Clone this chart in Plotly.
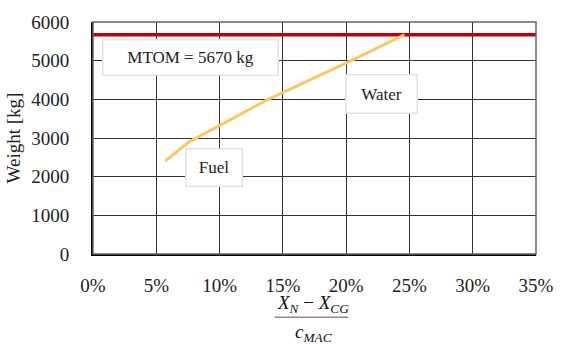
import plotly.graph_objects as go

# Data
cg_pct = [5.7, 7.6, 13.75, 20.4, 24.6]
weight = [2400, 2900, 3985, 5000, 5670]
mtom = 5670
x_range = [0, 35]
x_ticks = [0, 5, 10, 15, 20, 25, 30, 35]
x_ticktext = ["0%", "5%", "10%", "15%", "20%", "25%", "30%", "35%"]
y_ticks = [0, 1000, 2000, 3000, 4000, 5000, 6000]

serif = "Liberation Serif, Times New Roman, serif"

fig = go.Figure()
fig.add_trace(go.Scatter(x=x_range, y=[mtom, mtom], mode="lines",
                         line=dict(color="#c00000", width=3.5), showlegend=False))
fig.add_trace(go.Scatter(x=cg_pct, y=weight, mode="lines",
                         line=dict(color="#f7c863", width=3), showlegend=False))

box = dict(bgcolor="white", bordercolor="#e3e3e3", borderwidth=1.5, borderpad=0,
           showarrow=False, font=dict(family=serif, size=17, color="#222"))
fig.add_annotation(x=7.72, y=5092, text="MTOM = 5670 kg", width=174, height=34, **box)
fig.add_annotation(x=9.59, y=2243, text="Fuel", width=55, height=36, **box)
fig.add_annotation(x=22.77, y=4134, text="Water", width=70, height=37, **box)

# Fraction x-axis title
math = "Liberation Serif, serif"
fig.add_annotation(xref="paper", yref="paper", x=0.497, y=-0.215, yanchor="middle",
                   text="<i>X</i><sub><i>N</i></sub> − <i>X</i><sub><i>CG</i></sub>",
                   showarrow=False, font=dict(family=math, size=19, color="#111"))
fig.add_annotation(xref="paper", yref="paper", x=0.497, y=-0.34, yanchor="middle",
                   text="<i>c</i><sub><i>MAC</i></sub>",
                   showarrow=False, font=dict(family=math, size=19, color="#111"))
fig.add_shape(type="line", xref="paper", yref="paper", x0=0.41, x1=0.576,
              y0=-0.273, y1=-0.273, line=dict(color="#9c8585", width=1.5))

# Top/right frame
fig.add_shape(type="rect", xref="paper", yref="paper", x0=0, x1=1, y0=0, y1=1,
              line=dict(color="#666", width=1.5), layer="above")

fig.update_xaxes(range=x_range, tickvals=x_ticks, ticktext=x_ticktext,
                 showgrid=True, gridcolor="#333", gridwidth=1,
                 showline=True, linecolor="black", linewidth=2,
                 zeroline=False, ticks="", ticklabelstandoff=13,
                 ticklabeloverflow="allow",
                 tickfont=dict(family=serif, size=19, color="#222"))
fig.update_yaxes(range=[0, 6000], tickvals=y_ticks,
                 showgrid=True, gridcolor="#333", gridwidth=1,
                 showline=True, linecolor="black", linewidth=2,
                 zeroline=False, ticks="", ticklabelstandoff=18,
                 ticklabeloverflow="allow",
                 tickfont=dict(family=serif, size=19, color="#222"),
                 title=dict(text="Weight [kg]", standoff=6,
                            font=dict(family=serif, size=19, color="#222")))

fig.update_layout(width=566, height=344, margin=dict(l=90, r=17, t=16, b=90),
                  plot_bgcolor="white", paper_bgcolor="white")

fig.write_html("out.html")
